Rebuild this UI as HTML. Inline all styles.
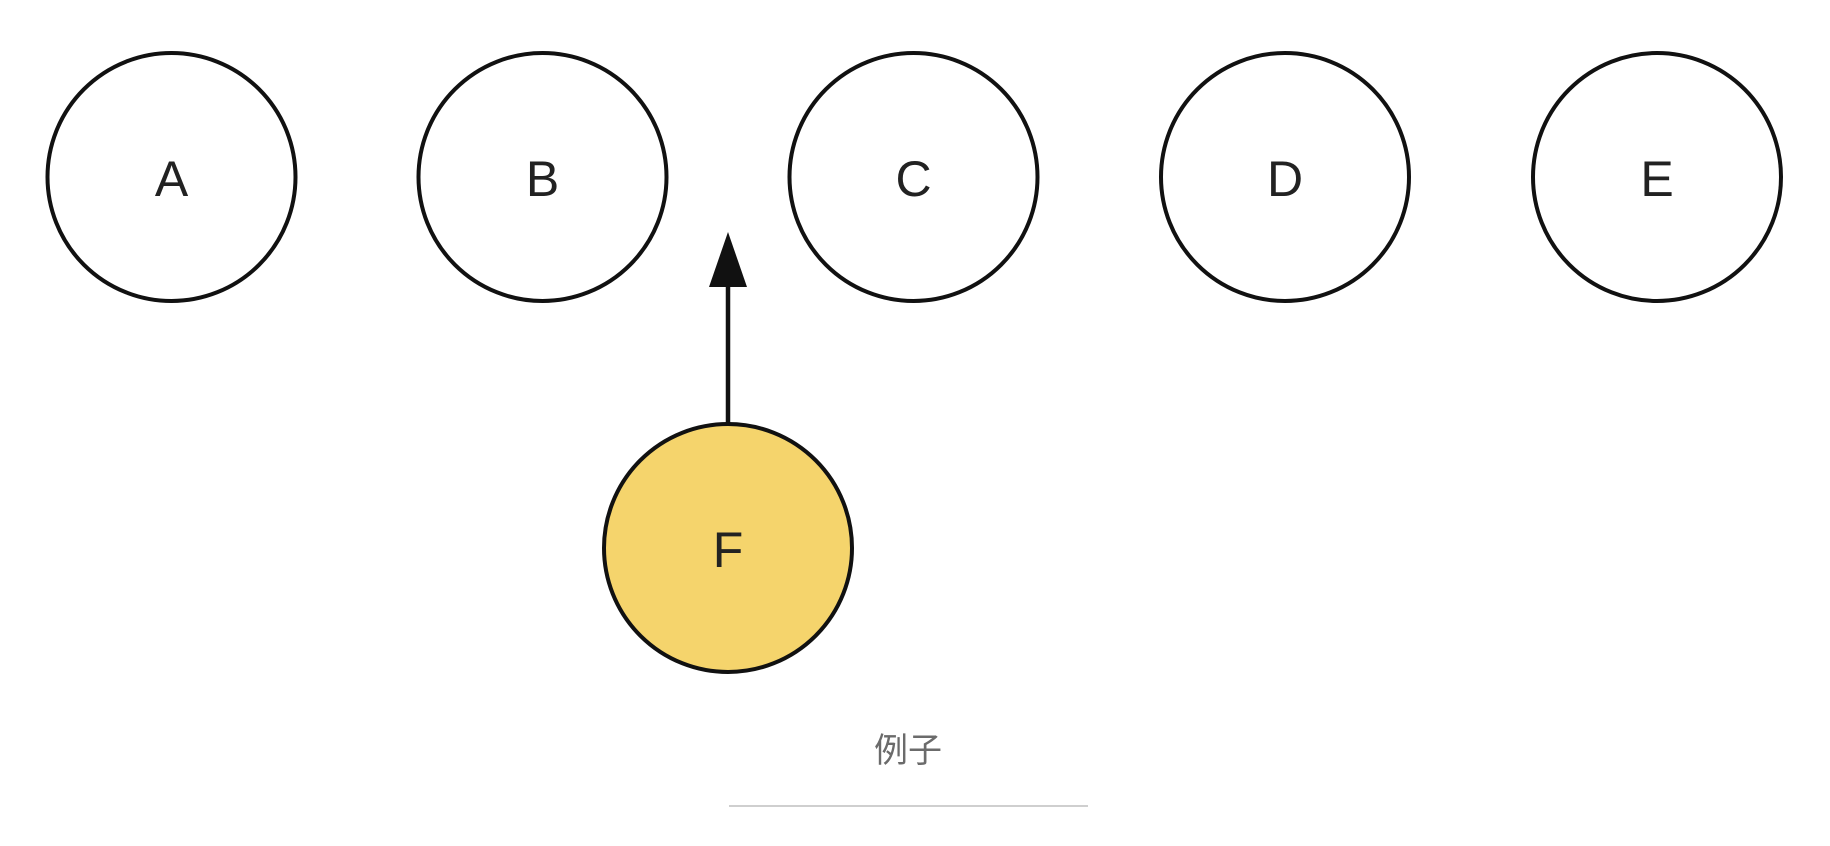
<!DOCTYPE html>
<html><head><meta charset="utf-8"><style>
html,body{margin:0;padding:0;background:#fff;width:1830px;height:846px;overflow:hidden}
svg{display:block}
</style></head><body>
<svg width="1830" height="846" viewBox="0 0 1830 846">
<g id="nodes"></g>
<g>
<line x1="728" y1="424" x2="728" y2="284" stroke="#111" stroke-width="4.5"/>
<polygon points="728,232 709,287 747,287" fill="#111"/>
</g>
<g>
<circle cx="728" cy="548" r="124" fill="#f5d46c" stroke="#111" stroke-width="4"/>
<text x="728" y="567" text-anchor="middle" font-family="Liberation Sans, sans-serif" font-size="50" fill="#222">F</text>
</g>
<text x="908" y="762" text-anchor="middle" font-family="Liberation Sans, 'Noto Sans CJK SC', sans-serif" font-size="34" fill="#6b6b6b">例子</text>
<line x1="729" y1="806" x2="1088" y2="806" stroke="#cfcfcf" stroke-width="2"/>
</svg>
<script>
const labels=["A","B","C","D","E"];
const centersX=[171.5,542.5,913.5,1285,1657];
const g=document.getElementById('nodes');
const ns="http://www.w3.org/2000/svg";
labels.forEach((l,i)=>{
  const grp=document.createElementNS(ns,'g');
  
  
  const c=document.createElementNS(ns,'circle');
  c.setAttribute('cx',centersX[i]);c.setAttribute('cy',177);c.setAttribute('r',124);
  c.setAttribute('fill','#fff');c.setAttribute('stroke','#111');c.setAttribute('stroke-width',4);
  const t=document.createElementNS(ns,'text');
  t.setAttribute('x',centersX[i]);t.setAttribute('y',196);
  t.setAttribute('text-anchor','middle');t.setAttribute('font-family','Liberation Sans, sans-serif');
  t.setAttribute('font-size',50);t.setAttribute('fill','#222');
  t.textContent=l;
  grp.appendChild(c);grp.appendChild(t);g.appendChild(grp);
});
</script>
</body></html>
